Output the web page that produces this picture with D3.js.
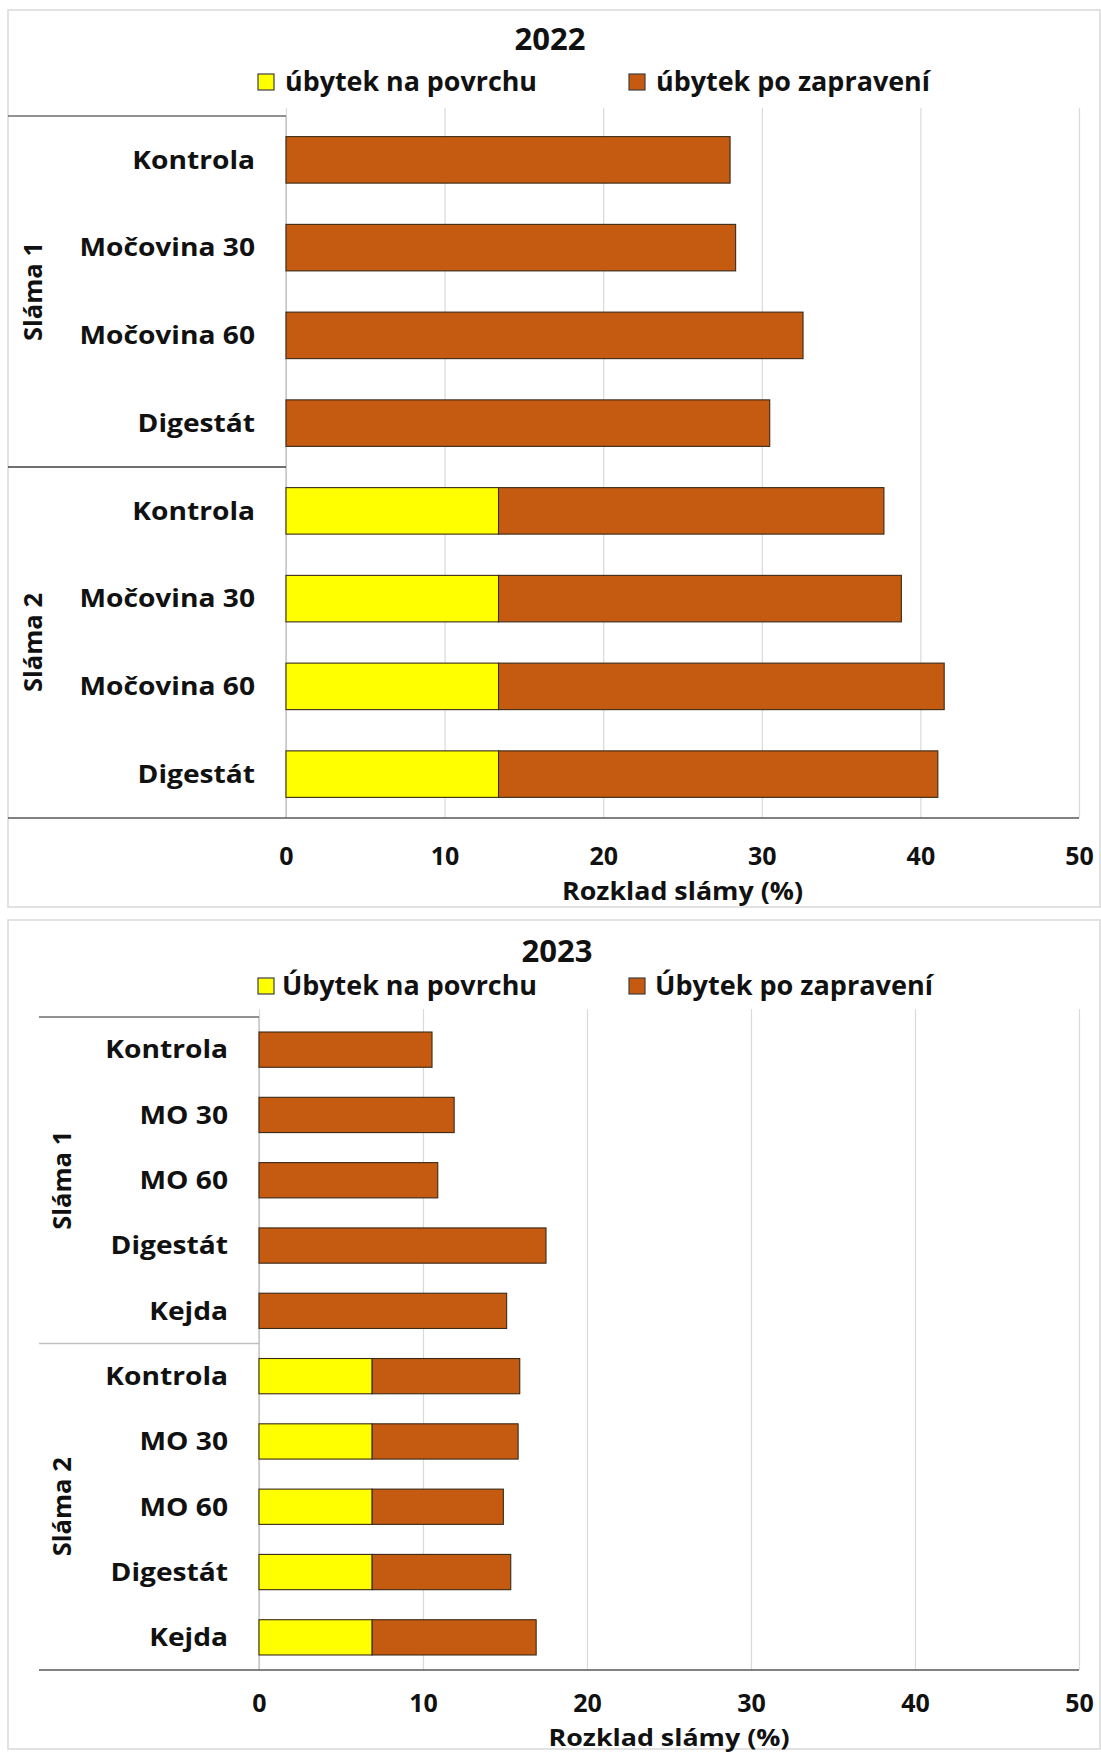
<!DOCTYPE html>
<html>
<head>
<meta charset="utf-8">
<script src="https://cdn.jsdelivr.net/npm/d3@7"></script>
<style>
  html, body { margin: 0; padding: 0; background: #ffffff; }
  svg { display: block; }
  text { font-family: "Open Sans", "DejaVu Sans", sans-serif; font-weight: 700; fill: #111111; }
</style>
</head>
<body>
<svg id="fig" width="1101" height="1753"></svg>
<script>
// Straw decomposition: loss on the surface vs. loss after incorporation
const groups = ["Sláma 1", "Sláma 2"];
const xTicks = [0, 10, 20, 30, 40, 50];
const axisTitle = "Rozklad slámy (%)";

const treatments2022 = ["Kontrola", "Močovina 30", "Močovina 60", "Digestát"];
const legend2022 = ["úbytek na povrchu", "úbytek po zapravení"];
// one value per row: Sláma 1 rows first, then Sláma 2 rows
const surface2022 = [0, 0, 0, 0, 13.4, 13.4, 13.4, 13.4];
const incorporated2022 = [28.0, 28.35, 32.6, 30.5, 24.3, 25.4, 28.1, 27.7];

const treatments2023 = ["Kontrola", "MO 30", "MO 60", "Digestát", "Kejda"];
const legend2023 = ["Úbytek na povrchu", "Úbytek po zapravení"];
const surface2023 = [0, 0, 0, 0, 0, 6.9, 6.9, 6.9, 6.9, 6.9];
const incorporated2023 = [10.55, 11.9, 10.9, 17.5, 15.1, 9.0, 8.9, 8.0, 8.45, 10.0];

const seriesKeys = ["surface", "incorporated"];
const colors = { surface: "#FFFF00", incorporated: "#C55A11" };

const svg = d3.select("#fig");

function drawChart(cfg) {
  const root = svg.append("g");

  // chart frame
  root.append("rect")
    .attr("x", cfg.frame[0]).attr("y", cfg.frame[1])
    .attr("width", cfg.frame[2] - cfg.frame[0]).attr("height", cfg.frame[3] - cfg.frame[1])
    .attr("fill", "#ffffff").attr("stroke", "#d9d9d9").attr("stroke-width", 1.5);

  // rows: group × treatment
  const rows = [];
  groups.forEach(g => cfg.treatments.forEach(t => rows.push({ group: g, treatment: t })));
  rows.forEach((r, i) => {
    r.id = r.group + "|" + r.treatment;
    r.surface = cfg.surface[i];
    r.incorporated = cfg.incorporated[i];
  });

  const x = d3.scaleLinear().domain([xTicks[0], xTicks[xTicks.length - 1]]).range([cfg.x0, cfg.x1]);
  const y = d3.scaleBand().domain(rows.map(r => r.id)).range([cfg.top, cfg.bottom]).paddingInner(cfg.pad).paddingOuter(cfg.pad / 2);

  // vertical gridlines
  root.append("g")
    .attr("transform", `translate(0,${cfg.bottom})`)
    .call(d3.axisBottom(x).tickValues(xTicks).tickSize(-(cfg.bottom - cfg.gridTop)).tickFormat(""))
    .call(g => g.select(".domain").remove())
    .call(g => g.selectAll(".tick line").attr("stroke", "#d9d9d9").attr("stroke-width", 1.2));

  // value axis labels
  root.append("g")
    .attr("transform", `translate(0,${cfg.tickY})`)
    .call(d3.axisBottom(x).tickValues(xTicks).tickSize(0).tickPadding(0).tickFormat(d3.format("d")))
    .call(g => g.select(".domain").remove())
    .call(g => g.selectAll(".tick text")
      .attr("y", 0).attr("dy", "0.36em")
      .attr("font-size", 25).attr("font-family", null).attr("fill", "#111111"));

  // category axis frame: vertical line at zero, table lines
  root.append("line")
    .attr("x1", cfg.x0).attr("x2", cfg.x0).attr("y1", cfg.top).attr("y2", cfg.bottom)
    .attr("stroke", "#bfbfbf").attr("stroke-width", 1.2);
  root.append("line")
    .attr("x1", cfg.tableLeft).attr("x2", cfg.x0).attr("y1", cfg.top).attr("y2", cfg.top)
    .attr("stroke", "#6e6e6e").attr("stroke-width", 1.3);
  const sepY = y(rows[cfg.treatments.length].id) - y.step() * y.paddingInner() / 2;
  root.append("line")
    .attr("x1", cfg.tableLeft).attr("x2", cfg.x0).attr("y1", sepY).attr("y2", sepY)
    .attr("stroke", cfg.sepColor).attr("stroke-width", 1.3);

  // stacked bars
  const stacked = d3.stack().keys(seriesKeys)(rows);
  root.append("g").selectAll("g")
    .data(stacked)
    .join("g")
      .attr("fill", d => colors[d.key])
    .selectAll("rect")
    .data(d => d.filter(s => s[1] - s[0] > 0))
    .join("rect")
      .attr("x", d => x(d[0]))
      .attr("y", d => y(d.data.id))
      .attr("width", d => x(d[1]) - x(d[0]))
      .attr("height", y.bandwidth())
      .attr("stroke", "#3a2a18")
      .attr("stroke-width", 1.1);

  // horizontal axis baseline
  root.append("line")
    .attr("x1", cfg.tableLeft).attr("x2", cfg.x1).attr("y1", cfg.bottom).attr("y2", cfg.bottom)
    .attr("stroke", "#595959").attr("stroke-width", 1.6);

  // treatment labels
  root.append("g").selectAll("text")
    .data(rows)
    .join("text")
      .attr("transform", d => `translate(${cfg.labelX},${y(d.id) + y.bandwidth() / 2}) scale(${cfg.labelStretch},1)`)
      .attr("text-anchor", "end")
      .attr("dy", "0.36em")
      .attr("font-size", 24.5)
      .text(d => d.treatment);

  // group labels (rotated)
  groups.forEach((g, gi) => {
    const first = y(rows[gi * cfg.treatments.length].id);
    const last = y(rows[(gi + 1) * cfg.treatments.length - 1].id) + y.bandwidth();
    root.append("text")
      .attr("transform", `translate(${cfg.groupX},${(first + last) / 2}) rotate(-90)`)
      .attr("text-anchor", "middle")
      .attr("dy", "0.36em")
      .attr("font-size", 25)
      .attr("textLength", 99).attr("lengthAdjust", "spacingAndGlyphs")
      .text(g);
  });

  // title
  root.append("text")
    .attr("x", cfg.titleX).attr("y", cfg.titleY)
    .attr("text-anchor", "middle").attr("dy", "0.36em")
    .attr("font-size", 31)
    .text(cfg.title);

  // legend
  const legend = root.append("g");
  seriesKeys.forEach((k, i) => {
    const lx = cfg.legendX[i];
    legend.append("rect")
      .attr("x", lx - 8).attr("y", cfg.legendY - 8)
      .attr("width", 16).attr("height", 16)
      .attr("fill", colors[k]).attr("stroke", "#404040").attr("stroke-width", 1.2);
    legend.append("text")
      .attr("x", cfg.legendTextX[i]).attr("y", cfg.legendY)
      .attr("dy", "0.36em")
      .attr("font-size", 26)
      .attr("textLength", cfg.legendTextW[i]).attr("lengthAdjust", "spacingAndGlyphs")
      .text(cfg.legend[i]);
  });

  // axis title
  root.append("text")
    .attr("x", (cfg.x0 + cfg.x1) / 2).attr("y", cfg.axisTitleY)
    .attr("text-anchor", "middle").attr("dy", "0.36em")
    .attr("font-size", cfg.axisTitleSize)
    .attr("textLength", 241).attr("lengthAdjust", "spacingAndGlyphs")
    .text(axisTitle);
}

drawChart({
  title: "2022",
  treatments: treatments2022,
  surface: surface2022,
  incorporated: incorporated2022,
  legend: legend2022,
  frame: [8, 10, 1100, 907],
  x0: 286, x1: 1079,
  top: 116, bottom: 818, gridTop: 108, pad: 0.47,
  tableLeft: 8, sepColor: "#404040",
  labelX: 255, labelStretch: 1.15, groupX: 33,
  tickY: 856, axisTitleY: 891, axisTitleSize: 25,
  titleX: 550, titleY: 39,
  legendY: 82, legendX: [266, 637], legendTextX: [285, 656], legendTextW: [252, 274]
});

drawChart({
  title: "2023",
  treatments: treatments2023,
  surface: surface2023,
  incorporated: incorporated2023,
  legend: legend2023,
  frame: [8, 920, 1100, 1749],
  x0: 259, x1: 1079,
  top: 1017, bottom: 1670, gridTop: 1009, pad: 0.46,
  tableLeft: 39, sepColor: "#bfbfbf",
  labelX: 228, labelStretch: 1.15, groupX: 62,
  tickY: 1703, axisTitleY: 1737, axisTitleSize: 24,
  titleX: 557, titleY: 951,
  legendY: 986, legendX: [266, 637], legendTextX: [282, 655], legendTextW: [255, 278]
});
</script>
</body>
</html>
